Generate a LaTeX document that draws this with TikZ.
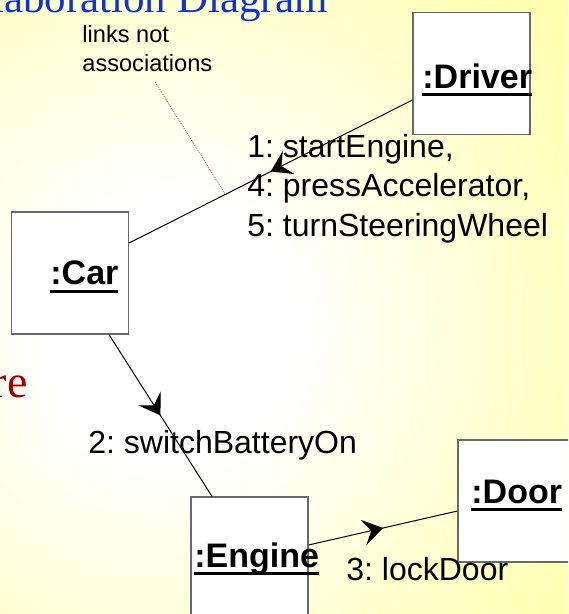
\documentclass[tikz,border=0pt]{standalone}
\usepackage{fontspec}
\setmainfont{Liberation Sans}
\newfontfamily\slidefont{Liberation Serif}
\usetikzlibrary{arrows.meta, positioning, decorations.markings}
\frenchspacing

\definecolor{slideyellow}{RGB}{255,255,100}
\definecolor{titleblue}{RGB}{20,50,210}
\definecolor{darkred}{RGB}{160,0,0}
\definecolor{boxgray}{RGB}{105,105,105}
\pgfdeclareradialshading{slidebg}{\pgfpointorigin}{color(0bp)=(white); color(4bp)=(white); color(26bp)=(slideyellow); color(50bp)=(slideyellow)}
\newcommand{\objul}[1]{\vtop{\setbox0\hbox{#1}\dp0=0pt\box0\kern2.25pt\hrule height1.5pt}}

\begin{document}
\begin{tikzpicture}[x=0.5pt,y=-0.5pt,>={Stealth[length=10pt,width=13pt,inset=4pt]},
      object/.style={draw=boxgray,line width=0.6pt,fill=white,minimum width=58.5pt,minimum height=61pt,inner sep=0pt},
      objname/.style={anchor=base west,inner sep=0pt,font=\bfseries\fontsize{17}{20}\selectfont},
      msg/.style={anchor=base west,inner sep=0pt,font=\fontsize{16}{19}\selectfont},
      note/.style={anchor=base west,inner sep=0pt,font=\fontsize{11.8}{14}\selectfont},
      link/.style={line width=0.5pt,postaction={decorate},
        decoration={markings,mark=at position 0.5 with {\arrow{>}}}},
      noteline/.style={draw=gray,line width=0.4pt,dash pattern=on 0.5pt off 0.5pt}]

      \useasboundingbox (0,0) rectangle (568,614);
      \clip (0,0) rectangle (568,614);
      \shade[shading=slidebg] (170,330) circle (400pt);

      % slide text behind the diagram
      \node[anchor=base east,inner sep=0pt,text=titleblue,font=\slidefont\fontsize{21.5}{24}\selectfont] (title) at (328,13) {Collaboration Diagram};
      \node[anchor=base east,inner sep=0pt,text=darkred,font=\slidefont\fontsize{23}{27}\selectfont] (side) at (28,397) {re};

      % objects
      \node[object] (driver) at (471.5,73.5) {};
      \node[object] (car)    at (70,273)     {};
      \node[object] (engine) at (249.5,558)  {};
      \node[object] (door)   at (516.5,501)  {};

      \node[objname] (driverName) at (422,89)  {\objul{:Driver}};
      \node[objname] (carName)    at (50,285)  {\objul{:Car}};
      \node[objname] (engineName) at (194,567) {\objul{:Engine}};
      \node[objname] (doorName)   at (471,503) {\objul{:Door}};

      % links with messages
      \draw[link] ([yshift=-13.25pt]driver.west) -- coordinate[pos=0.66] (noteTip) ([yshift=15pt]car.east);
      \draw[link] ([xshift=19.5pt]car.south) -- ([xshift=-18.75pt]engine.north);
      \draw[link] ([yshift=6.5pt]engine.east) -- ([yshift=-5pt]door.west);

      \node[msg] (msg1) at (247,158) {1: startEngine,};
      \node[msg,below=19.5pt of msg1.base west,anchor=base west] (msg4) {4: pressAccelerator,};
      \node[msg,below=20pt of msg4.base west,anchor=base west] (msg5) {5: turnSteeringWheel};
      \node[msg] (msg2) at (88,453)  {2: switchBatteryOn};
      \node[msg] (msg3) at (346,580) {3: lockDoor};

      % note
      \node[note] (noteA) at (82,42.7) {links not};
      \node[note,below=14.5pt of noteA.base west,anchor=base west] (noteB) {associations};
      \draw[noteline] ([xshift=4pt,yshift=-5pt]noteB.south) -- (noteTip);
    \end{tikzpicture}
\end{document}
